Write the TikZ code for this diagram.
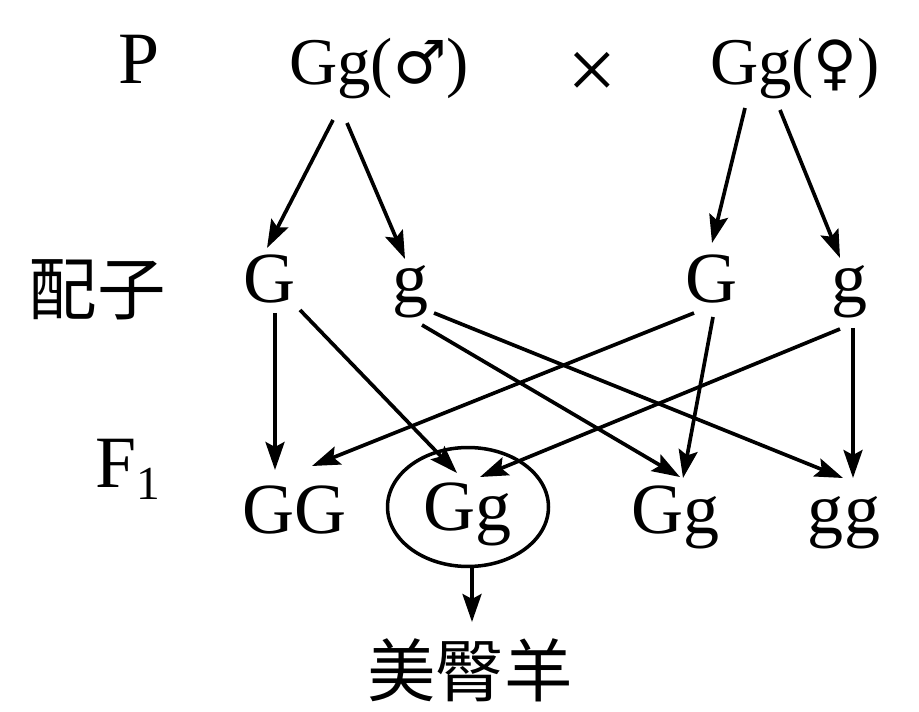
\documentclass[tikz,border=0pt]{standalone}
\usepackage{fontspec}
\setmainfont{Liberation Serif}
\newfontfamily\cjk{Noto Sans CJK SC}
\newfontfamily\symfont{DejaVu Sans}
\usetikzlibrary{arrows.meta}
\usetikzlibrary{shapes.geometric}

\tikzset{
    big/.style={font=\fontsize{42}{44}\selectfont, inner sep=0pt, anchor=base},
    par/.style={font=\fontsize{38}{40}\selectfont, inner sep=0pt, anchor=base},
    gam/.style={font=\fontsize{41}{44}\selectfont, inner sep=0pt, anchor=base},
    cn/.style={font=\fontsize{39}{42}\selectfont\cjk, inner sep=0pt},
    arr/.style={-{Stealth[length=0.56cm, width=0.38cm, inset=0.1cm]}, line width=2.1pt},
}

\begin{document}
\begin{tikzpicture}[x=0.02cm, y=-0.02cm]
    \useasboundingbox (0,0) rectangle (919,712);
    %P
    \node[big] (P) at (139,84) {P};
    \node[par] (Pm) at (379,85) {Gg(\raisebox{1pt}{\fontsize{34}{36}\selectfont\symfont ♂})};
    \node[anchor=center, inner sep=0pt, font=\fontsize{50}{52}\selectfont] (cross) at (592,76) {×};
    \node[par] (Pf) at (795,85) {Gg(\raisebox{1pt}{\fontsize{34}{36}\selectfont\symfont ♀})};
    %gametes
    \node[cn] (pz) at (97,290) {配子};
    \node[gam] (G1) at (270,303) {G};
    \node[gam] (g1) at (411,303) {g};
    \node[gam] (G2) at (711,303) {G};
    \node[gam] (g2) at (849,303) {g};
    %F1
    \node[big, anchor=base west] (F) at (95,487) {F\raisebox{-0.26cm}{\fontsize{27}{28}\selectfont 1}};
    \node[gam] (GG) at (295,533) {GG};
    \node[draw, ellipse, line width=2pt, inner sep=0pt, text depth=0pt, minimum width=3.22cm, minimum height=2.38cm, font=\fontsize{41}{44}\selectfont] (Gg1) at (468,507) {Gg};
    \node[gam] (Gg2) at (676,533) {Gg};
    \node[gam] (gg) at (844,533) {gg};
    %result
    \node[cn] (mt) at (470,670) {美臀羊};

    %P to gametes
    \draw[arr] ([shift={(-46,35)}]Pm.base) -- ([shift={(-3,-55)}]G1.base);
    \draw[arr] ([shift={(-32,38)}]Pm.base) -- ([shift={(-6,-44)}]g1.base);
    \draw[arr] ([shift={(-50,23)}]Pf.base) -- ([shift={(1,-60)}]G2.base);
    \draw[arr] ([shift={(-15,25)}]Pf.base) -- ([shift={(-9,-45)}]g2.base);
    %gametes to F1
    \draw[arr] ([shift={(5,10)}]G1.base) -- ([shift={(-20,-63)}]GG.base);
    \draw[arr] ([shift={(30,7)}]G1.base) -- ([shift={(-11,-34)}]Gg1.center);
    \draw[arr] ([shift={(11,22)}]g1.base) -- ([shift={(4,-56)}]Gg2.base);
    \draw[arr] ([shift={(23,10)}]g1.base) -- ([shift={(-1,-55)}]gg.base);
    \draw[arr] ([shift={(-17,10)}]G2.base) -- ([shift={(17,-67)}]GG.base);
    \draw[arr] ([shift={(2,14)}]G2.base) -- ([shift={(7,-55)}]Gg2.base);
    \draw[arr] ([shift={(-9,26)}]g2.base) -- ([shift={(12,-30)}]Gg1.center);
    \draw[arr] ([shift={(4,25)}]g2.base) -- ([shift={(9,-55)}]gg.base);
    %Gg to result
    \draw[arr] ([shift={(4,0)}]Gg1.south) -- ([shift={(2,-48)}]mt.center);
\end{tikzpicture}
\end{document}
